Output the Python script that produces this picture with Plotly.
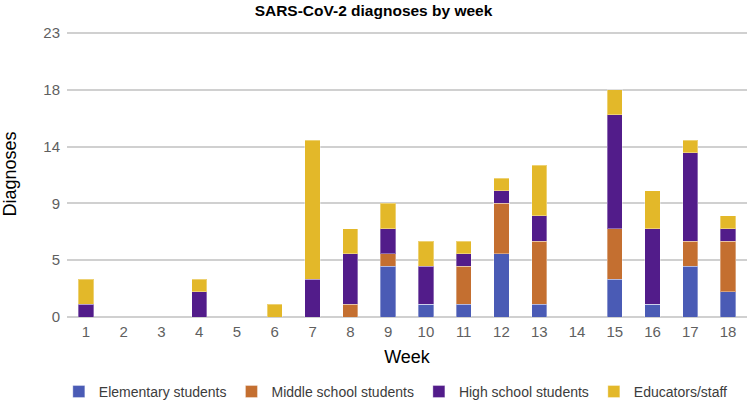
import plotly.graph_objects as go

weeks = [str(w) for w in range(1, 19)]

elementary = [0, 0, 0, 0, 0, 0, 0, 0, 4, 1, 1, 5, 1, 0, 3, 1, 4, 2]
middle = [0, 0, 0, 0, 0, 0, 0, 1, 1, 0, 3, 4, 5, 0, 4, 0, 2, 4]
high = [1, 0, 0, 2, 0, 0, 3, 4, 2, 3, 1, 1, 2, 0, 9, 6, 7, 1]
educators = [2, 0, 0, 1, 0, 1, 11, 2, 2, 2, 1, 1, 4, 0, 2, 3, 1, 1]

y_tickvals = [0, 4.5, 9, 13.5, 18, 22.5]
y_ticktext = ["0", "5", "9", "14", "18", "23"]

series = [
    ("Elementary students", elementary, "#4a5bb5"),
    ("Middle school students", middle, "#c46f30"),
    ("High school students", high, "#521c8a"),
    ("Educators/staff", educators, "#e3b829"),
]

FONT = "Liberation Sans, Arial, sans-serif"

fig = go.Figure()
for name, vals, color in series:
    fig.add_trace(go.Bar(
        x=weeks, y=vals, name=name, marker_color=color,
        marker_line=dict(color="rgba(255,255,255,0.35)", width=1),
    ))

fig.update_layout(
    barmode="stack", bargap=0.595,
    width=747, height=403,
    template="plotly_white",
    font=dict(family=FONT, size=15, color="#5f5f5f"),
    title=dict(text="<b>SARS-CoV-2 diagnoses by week</b>", x=0.5, xanchor="center",
               y=0.975, yanchor="middle",
               font=dict(family=FONT, size=15.5, color="#000000")),
    margin=dict(l=67, r=0, t=31, b=86, autoexpand=False),
    plot_bgcolor="white", paper_bgcolor="white",
    xaxis=dict(
        title=dict(text="Week", font=dict(size=18, color="#000000"), standoff=11),
        showgrid=False, showline=False, ticks="", automargin=False,
        ticklabelstandoff=4, tickfont=dict(size=15, color="#5f5f5f"),
    ),
    yaxis=dict(
        title=dict(text="Diagnoses", font=dict(size=18, color="#000000"), standoff=28),
        range=[0, 22.65], tickvals=y_tickvals, ticktext=y_ticktext, automargin=False,
        gridcolor="#d0d0d0", gridwidth=1.5, zeroline=True, zerolinecolor="#d0d0d0",
        zerolinewidth=1.5, showline=False, ticklabelstandoff=6,
        tickfont=dict(size=15, color="#5f5f5f"),
    ),
    legend=dict(
        orientation="h", x=-0.012, xanchor="left", y=-0.262, yanchor="middle",
        font=dict(size=14, color="#3c3c3c"), itemwidth=30, traceorder="normal",
    ),
)

fig.write_html("out.html", config={"displayModeBar": False},
               post_script="document.body.style.margin='0';")
